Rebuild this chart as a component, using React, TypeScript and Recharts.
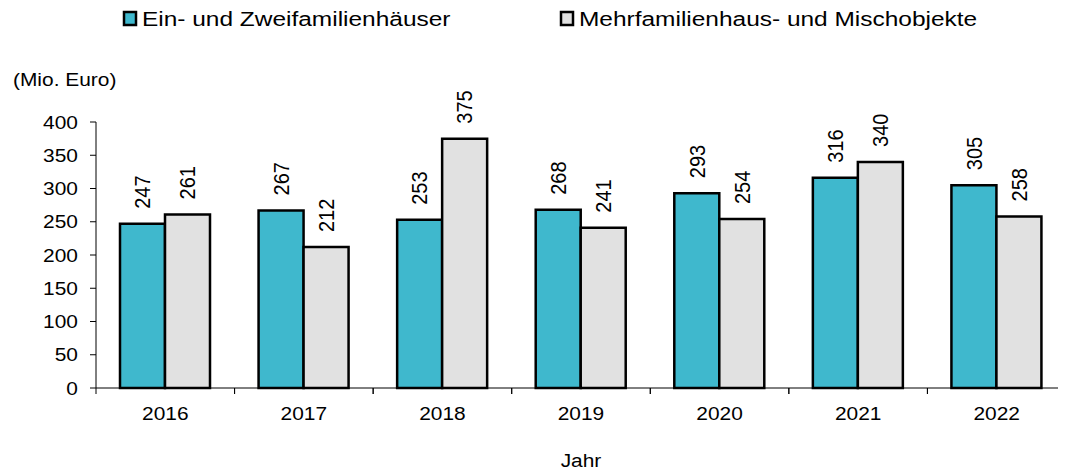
import React from 'react';
import { BarChart, Bar, XAxis, YAxis, Legend, LabelList } from 'recharts';

const categories = ['2016', '2017', '2018', '2019', '2020', '2021', '2022'];
const einZwei = [247, 267, 253, 268, 293, 316, 305];
const mehr = [261, 212, 375, 241, 254, 340, 258];
const yTicks = [0, 50, 100, 150, 200, 250, 300, 350, 400];
const seriesNames = ['Ein- und Zweifamilienhäuser', 'Mehrfamilienhaus- und Mischobjekte'];

const data = categories.map((c, i) => ({ year: c, a: einZwei[i], b: mehr[i] }));

const COLORS = ['#3FB8CD', '#E1E1E1'];
const FONT = '"Liberation Sans", Arial, sans-serif';
const FS = 19;
const SX = 1.1;
const LABEL_FS = 20;
const LEG_FS = 21;
const LEG_SX = 1.165;

const W = 1066;
const H = 473;
const MARGIN = { top: 122, right: 0, bottom: 45, left: 0 };
const Y_W = 96;
const TICK_SIZE = 6;
const X_TICK_MARGIN = 12;

const SText = ({ x, y, sx = SX, anchor = 'start', baseline, rotate = 0, size = FS, children }: any) => (
  <text
    x={0}
    y={0}
    transform={`translate(${x}, ${y}) scale(${sx}, 1) rotate(${rotate})`}
    textAnchor={anchor}
    dominantBaseline={baseline}
    fontSize={size}
    fontFamily={FONT}
    fill="#000"
  >
    {children}
  </text>
);

const XTick = (props: any) => {
  const { x, y, payload } = props;
  const band = payload && payload.offset ? payload.offset : (W - MARGIN.left - MARGIN.right - Y_W) / categories.length / 2;
  const axisY = y - TICK_SIZE - X_TICK_MARGIN;
  return (
    <g>
      <line x1={x - band} x2={x - band} y1={axisY} y2={axisY + TICK_SIZE} stroke="#000" strokeWidth={1} />
      <line x1={x + band} x2={x + band} y1={axisY} y2={axisY + TICK_SIZE} stroke="#000" strokeWidth={1} />
      <SText x={x} y={y + 14} anchor="middle">{payload.value}</SText>
    </g>
  );
};

const YTick = (props: any) => {
  const { x, y, payload } = props;
  return <SText x={x} y={y} anchor="end" baseline="central">{payload.value}</SText>;
};

const BarLabel = (props: any) => {
  const { x, y, width, value } = props;
  const cx = x + width / 2;
  const ty = y - 15;
  return <SText x={cx} y={ty} rotate={-90} anchor="start" baseline="central" size={LABEL_FS}>{value}</SText>;
};

const LegendContent = () => (
  <svg width={W} height={40} style={{ display: 'block' }}>
    {seriesNames.map((n, i) => {
      const ix = i === 0 ? 124 : 561;
      return (
        <g key={n}>
          <rect x={ix} y={12} width={12} height={13} fill={COLORS[i]} stroke="#000" strokeWidth={2.5} />
          <SText x={ix + 18} y={26} sx={LEG_SX} size={LEG_FS}>{n}</SText>
        </g>
      );
    })}
  </svg>
);

const YLabel = (props: any) => {
  const { viewBox } = props;
  return <SText x={13} y={viewBox.y - 36}>(Mio. Euro)</SText>;
};

const XLabel = (props: any) => {
  const { viewBox } = props;
  return <SText x={viewBox.x + viewBox.width / 2} y={467} anchor="middle">Jahr</SText>;
};

export default function App() {
  return (
    <div style={{ marginLeft: -8, marginTop: -8, width: W, height: H, background: '#fff' }}>
      <BarChart width={W} height={H} data={data} margin={MARGIN} barCategoryGap={24} barGap={0}>
        <Legend
          layout="horizontal"
          verticalAlign="middle"
          align="center"
          content={<LegendContent />}
          wrapperStyle={{ top: 0, left: 0, width: W, height: 40 }}
        />
        <XAxis
          dataKey="year"
          axisLine={{ stroke: '#000', strokeWidth: 1 }}
          tickLine={false}
          tickSize={TICK_SIZE}
          tickMargin={X_TICK_MARGIN}
          tick={<XTick />}
          height={40}
          interval={0}
          label={<XLabel />}
        />
        <YAxis
          width={Y_W}
          domain={[0, 400]}
          ticks={yTicks}
          interval={0}
          axisLine={{ stroke: '#000', strokeWidth: 1 }}
          tickLine={{ stroke: '#000', strokeWidth: 1 }}
          tickSize={TICK_SIZE}
          tickMargin={12}
          tick={<YTick />}
          label={<YLabel />}
        />
        <Bar dataKey="a" name={seriesNames[0]} fill={COLORS[0]} stroke="#000" strokeWidth={2.5} isAnimationActive={false}>
          <LabelList dataKey="a" content={<BarLabel />} />
        </Bar>
        <Bar dataKey="b" name={seriesNames[1]} fill={COLORS[1]} stroke="#000" strokeWidth={2.5} isAnimationActive={false}>
          <LabelList dataKey="b" content={<BarLabel />} />
        </Bar>
      </BarChart>
    </div>
  );
}
